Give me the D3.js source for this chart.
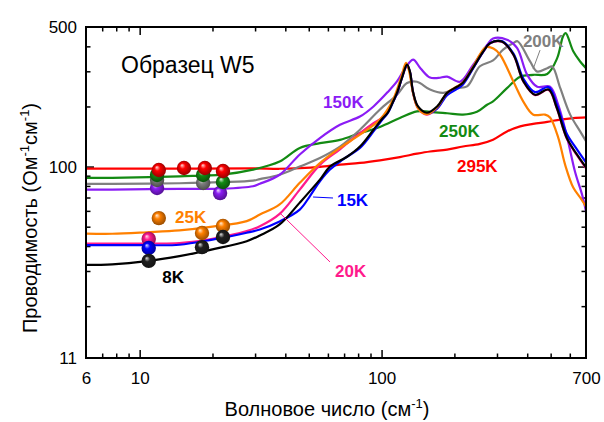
<!DOCTYPE html>
<html lang="ru">
<head>
<meta charset="UTF-8">
<title>Проводимость, образец W5</title>
<script src="https://d3js.org/d3.v7.min.js"></script>
<style>
  body { margin: 0; background: #fff; }
  svg { font-family: Arial, "Liberation Sans", sans-serif; }
  .axis path { display: none; }
  .axis line { stroke: #000; stroke-width: 1.5; }
  .axis text { font-size: 17px; fill: #000; }
  .curve { fill: none; stroke-width: 2.2; stroke-linejoin: round; }
  .tag { font-size: 17px; font-weight: bold; }
</style>
</head>
<body>
<svg width="604" height="422"></svg>
<script>
// tick values
const xLabels = [6, 10, 100, 700];
const xMajor = [10, 100];
const xMinor = [7, 8, 9, 20, 30, 40, 50, 60, 70, 80, 90, 200, 300, 400, 500, 600];
const yLabels = [11, 100, 500];
const yMajor = [100];
const yMinor = [20, 30, 40, 50, 60, 70, 80, 90, 200, 300, 400];

// spectra: [wavenumber cm-1, conductivity Ohm-1 cm-1]
const k8 = [[6,32.2],[7.7,32.4],[10.7,33.6],[14.6,35.6],[20,38.5],[27.7,42.3],[31.4,45.2],[37.9,51.3],[45.9,66],[55.6,86],[61.2,100],[72,112],[81.4,126],[92.6,153],[100,172],[106,186],[111.5,211],[116,235],[121.5,279],[127.4,324],[131.1,298],[134.9,237],[141.5,200],[154,186],[169.6,200],[186.6,234],[205,251],[217,263],[239,313],[263,376],[281,415],[314,423],[351,363],[386,267],[431,229],[490,243],[530,197],[583,139],[642,115],[700,99]];
const k15 = [[6,40.4],[7.7,40.4],[10.7,40.4],[14.6,40.6],[20,43.1],[27.7,46.6],[31.4,48.4],[37.9,53.1],[45.9,60.9],[50.5,71],[55.6,84.4],[61.2,96.6],[69.1,108.4],[81.4,124],[92.6,150],[100,170],[106,185],[111.5,210],[116,233],[121.5,279],[127.4,322],[131.1,296],[134.9,236],[141.5,198],[154,184],[169.6,195],[186.6,228],[205,245],[217,258],[239,310],[263,375],[281,415],[314,425],[351,368],[386,275],[431,236],[490,250],[530,205],[583,146],[642,122],[700,105]];
const k20 = [[6,41.2],[7.7,41.2],[10.7,41.2],[14.6,41.4],[20,43.5],[27.7,47.5],[31.4,50.3],[37.9,58],[45.9,76.7],[55.6,102],[67.3,122],[81.4,147],[92.6,165],[100,175],[106,188],[111.5,212],[116,234],[121.5,280],[127.4,322],[131.1,296],[134.9,234],[141.5,196],[154,182],[169.6,196],[186.6,232],[205,250],[217,262],[239,312],[263,375],[281,414],[314,422],[351,362],[386,266],[431,228],[490,242],[530,196],[583,138],[642,114],[700,98]];
const k25 = [[6,46.2],[7.7,46.1],[10.7,46.9],[14.6,47.9],[20,50],[27.7,53.3],[31.4,57.5],[37.9,64.6],[45.9,82.9],[55.6,104],[67.3,124],[81.4,144.5],[98.5,172],[111.5,216],[121.5,290],[126.2,331],[130,300],[134.9,234],[141.5,196],[154,183],[169.6,198],[186.6,234],[205,252],[217,264],[239,316],[255,365],[270,396],[290,390],[309,363],[351,266],[386,211],[424,182],[474,182],[497,176],[537,140],[574,102],[620,78.5],[662,70],[700,63]];
const k150 = [[6,76.7],[7.7,76.7],[14.6,77.3],[22,77.5],[29.4,79.7],[31.4,82],[37.9,91],[45.9,115],[55.6,139],[67.3,162],[81.4,178],[92.6,200],[106,236],[116,268],[124,305],[134.9,343],[145,310],[158.6,279],[172,278],[186.6,282],[211,266],[239,323],[273,406],[289,438],[330,432],[363,393],[400,288],[440,251],[497,251],[537,204],[585,140],[631,94],[675,72],[700,59.6]];
const k200 = [[6,82],[7.7,82],[14.6,82.5],[22,83.5],[29.4,85],[31.4,86.5],[37.9,91],[45.9,100],[55.6,110.5],[67.3,126],[81.4,153],[98.5,193],[115.8,229],[127.4,262],[140,266],[158.6,243],[179.6,234],[205,247],[225.7,252],[255,318],[289,340],[318,385],[351,416],[365,424],[411,336],[440,299],[484,311],[507,317],[548,247],[602,182],[662,150],[700,134]];
const k250 = [[6,87.8],[7.7,87.8],[14.6,89.4],[22,91.2],[29.4,96.6],[37.9,106],[45.9,124],[55.6,131],[67.3,136],[81.4,147],[98.5,158],[119,175],[140,189],[158.6,188],[186.6,185],[217,182],[248,188],[273,204],[289,212],[330,247],[374,282],[423,288],[484,291],[532,349],[563,450],[577,466],[620,378],[662,336],[700,311]];
const k295 = [[6,97.7],[14.6,97.7],[29.4,98],[37.9,97.5],[45.9,98.2],[55.6,99.7],[67.3,102.3],[81.4,104.3],[98.5,107.5],[119,111.5],[140,116],[158.6,119],[186.6,121.6],[217,126],[255,130],[289,136.4],[330,150],[374,159],[423,163.6],[484,167.5],[548,172],[620,175],[700,176.4]];

// DC points (spheres)
const dots8 = [[10.9,33.7],[18.1,39.5],[22.1,44.4]];
const dots15 = [[10.9,39.1]];
const dots20 = [[10.9,43.4]];
const dots25 = [[12.0,55.2],[18.1,46.5],[22.1,50.4]];
const dots150 = [[11.8,78.1],[21.5,73.7]];
const dots200 = [[11.8,85.7],[18.3,82.8]];
const dots250 = [[11.8,90.8],[18.3,90.8],[22.1,83.7]];
const dots295 = [[12.0,96.1],[15.25,98.4],[18.6,98.4],[22.1,95.0]];

const margin = { top: 27, right: 18, bottom: 64, left: 86 };
const width = 604, height = 422;

const x = d3.scaleLog().domain([6, 700]).range([margin.left, width - margin.right]);
const y = d3.scaleLog().domain([11, 500]).range([height - margin.bottom, margin.top]);

const svg = d3.select("svg");
const defs = svg.append("defs");

defs.append("clipPath").attr("id", "plot")
    .append("rect")
    .attr("x", x(6)).attr("y", y(500))
    .attr("width", x(700) - x(6)).attr("height", y(11) - y(500));

// ticks, all inward, mirrored on the opposite side
const yBottom = y(11), yTop = y(500), xLeft = x(6), xRight = x(700);
function ticks(axis, pos, vals, size) {
    svg.append("g").attr("class", "axis")
        .attr("transform", pos)
        .call(axis.tickValues(vals).tickSize(-size).tickFormat(""));
}
ticks(d3.axisBottom(x), `translate(0,${yBottom})`, xMajor, 8);
ticks(d3.axisBottom(x), `translate(0,${yBottom})`, xMinor, 4.5);
ticks(d3.axisTop(x), `translate(0,${yTop})`, xMajor, 8);
ticks(d3.axisTop(x), `translate(0,${yTop})`, xMinor, 4.5);
ticks(d3.axisLeft(y), `translate(${xLeft},0)`, yMajor, 8);
ticks(d3.axisLeft(y), `translate(${xLeft},0)`, yMinor, 4.5);
ticks(d3.axisRight(y), `translate(${xRight},0)`, yMajor, 8);
ticks(d3.axisRight(y), `translate(${xRight},0)`, yMinor, 4.5);

svg.append("g").attr("class", "axis")
    .attr("transform", `translate(0,${yBottom})`)
    .call(d3.axisBottom(x).tickValues(xLabels).tickSize(0).tickPadding(14).tickFormat(d3.format("d")));
svg.append("g").attr("class", "axis")
    .attr("transform", `translate(${xLeft},0)`)
    .call(d3.axisLeft(y).tickValues(yLabels).tickSize(0).tickPadding(9).tickFormat(d3.format("d")));

// curves
const line = d3.line()
    .x(d => x(d[0]))
    .y(d => y(d[1]))
    .curve(d3.curveCatmullRom.alpha(0.5));

const series = [
    { data: k295, color: "#ff0000" },
    { data: k250, color: "#138a13" },
    { data: k200, color: "#808080" },
    { data: k150, color: "#8b1cf5" },
    { data: k20, color: "#ff1a8c" },
    { data: k15, color: "#0000ff" },
    { data: k25, color: "#ff8000" },
    { data: k8, color: "#000000", w: 2.6 }
];

const curves = svg.append("g").attr("clip-path", "url(#plot)");
series.forEach(s => {
    curves.append("path")
        .attr("class", "curve")
        .attr("d", line(s.data))
        .attr("stroke", s.color)
        .attr("stroke-width", s.w || 2.2);
});

// frame
svg.append("rect")
    .attr("x", xLeft).attr("y", yTop)
    .attr("width", xRight - xLeft).attr("height", yBottom - yTop)
    .attr("fill", "none").attr("stroke", "#000").attr("stroke-width", 2);

// shaded spheres
function ballFill(name, color) {
    const g = defs.append("radialGradient").attr("id", "ball-" + name)
        .attr("cx", 0.5).attr("cy", 0.5).attr("r", 0.55)
        .attr("fx", 0.35).attr("fy", 0.3);
    const base = color === "#000000" ? "#202020" : color;
    g.append("stop").attr("offset", 0).attr("stop-color", d3.interpolateRgb(base, "#fff")(0.85));
    g.append("stop").attr("offset", 0.35).attr("stop-color", base);
    g.append("stop").attr("offset", 1).attr("stop-color", d3.interpolateRgb(base, "#000")(0.45));
    return `url(#ball-${name})`;
}

const dotSets = [
    { name: "20", data: dots20, color: "#ff1a8c" },
    { name: "15", data: dots15, color: "#0000ff" },
    { name: "25", data: dots25, color: "#ff8000" },
    { name: "8", data: dots8, color: "#000000" },
    { name: "150", data: dots150, color: "#8b1cf5" },
    { name: "200", data: dots200, color: "#808080" },
    { name: "250", data: dots250, color: "#138a13" },
    { name: "295", data: dots295, color: "#ff0000" }
];
dotSets.forEach(s => {
    const fill = ballFill(s.name, s.color);
    svg.append("g").selectAll("circle")
        .data(s.data)
        .join("circle")
        .attr("cx", d => x(d[0]))
        .attr("cy", d => y(d[1]))
        .attr("r", 7.2)
        .attr("fill", fill);
});

// leader lines
const leaders = [
    { from: [52.1, 70.4], to: [63, 69.6], color: "#0000ff" },
    { from: [38.0, 58.5], to: [61.2, 33.3], color: "#ff1a8c" },
    { from: [452, 383], to: [423, 308], color: "#808080" }
];
leaders.forEach(l => {
    svg.append("line")
        .attr("x1", x(l.from[0])).attr("y1", y(l.from[1]))
        .attr("x2", x(l.to[0])).attr("y2", y(l.to[1]))
        .attr("stroke", l.color).attr("stroke-width", 1);
});

// temperature tags, placed in data coordinates
const tags = [
    { text: "150K", at: [57.3, 196], color: "#8b1cf5" },
    { text: "200K", at: [384, 397], color: "#808080" },
    { text: "250K", at: [172.8, 140.7], color: "#138a13" },
    { text: "295K", at: [205, 94], color: "#ff0000" },
    { text: "15K", at: [65.4, 63.5], color: "#0000ff" },
    { text: "20K", at: [64.2, 28], color: "#ff1a8c" },
    { text: "25K", at: [14, 52.2], color: "#ff8000" },
    { text: "8K", at: [12.4, 26.1], color: "#000000" }
];
svg.append("g").selectAll("text")
    .data(tags)
    .join("text")
    .attr("class", "tag")
    .attr("x", d => x(d.at[0]))
    .attr("y", d => y(d.at[1]))
    .attr("fill", d => d.color)
    .text(d => d.text);

// sample name
svg.append("text")
    .attr("x", 121).attr("y", 73)
    .attr("font-size", 23)
    .text("Образец W5");

// axis titles
const xt = svg.append("text")
    .attr("x", 327).attr("y", 416)
    .attr("text-anchor", "middle")
    .attr("font-size", 20);
xt.append("tspan").text("Волновое число (см");
xt.append("tspan").attr("font-size", 13).attr("dy", -8).text("-1");
xt.append("tspan").attr("dy", 8).text(")");

const yt = svg.append("text")
    .attr("transform", "translate(37,218) rotate(-90)")
    .attr("text-anchor", "middle")
    .attr("font-size", 20);
yt.append("tspan").text("Проводимость (Ом");
yt.append("tspan").attr("font-size", 13).attr("dy", -8).text("-1");
yt.append("tspan").attr("dy", 8).text("см");
yt.append("tspan").attr("font-size", 13).attr("dy", -8).text("-1");
yt.append("tspan").attr("dy", 8).text(")");
</script>
</body>
</html>
